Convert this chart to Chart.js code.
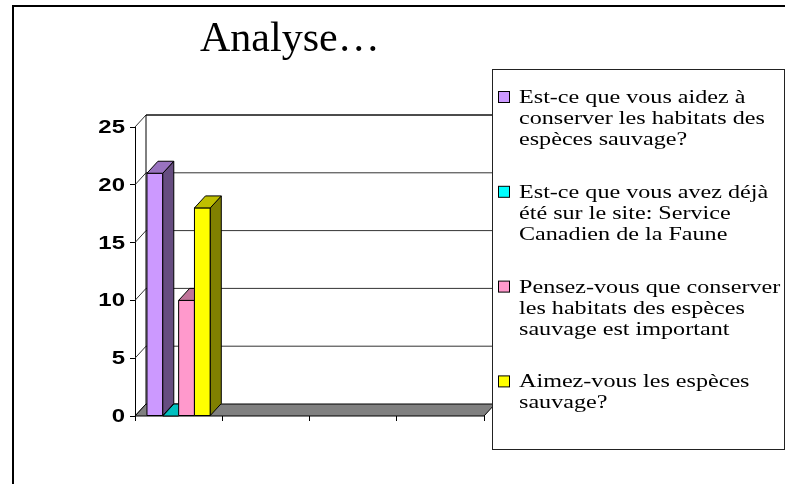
<!DOCTYPE html>
<html>
<head>
<meta charset="utf-8">
<title>Analyse…</title>
<script src="https://cdn.jsdelivr.net/npm/chart.js@4.4.1/dist/chart.umd.min.js"></script>
<style>
    html, body { margin: 0; padding: 0; background: #fff; }
    #wrap { position: relative; width: 785px; height: 484px; }
</style>
</head>
<body>
<div id="wrap"><canvas id="surveyChart" width="785" height="484"></canvas></div>
<script>
/* ================= DATA ================= */

const chartTitle = "Analyse…";
const categories = ["", "", "", ""];

const seriesLabels = [
    ["Est-ce que vous aidez à", "conserver les habitats des", "espèces sauvage?"],
    ["Est-ce que vous avez déjà", "été sur le site: Service", "Canadien de la Faune"],
    ["Pensez-vous que conserver", "les habitats des espèces", "sauvage est important"],
    ["Aimez-vous les espèces", "sauvage?"]
];
const seriesColors = ["#CC99FF", "#00FFFF", "#FF99CC", "#FFFF00"];

const aidezValues     = [21, null, null, null];
const siteValues      = [0, null, null, null];
const importantValues = [10, null, null, null];
const aimezValues     = [18, null, null, null];

const yMin = 0;
const yMax = 25;
const yStep = 5;

/* ================= 3D LOOK ================= */

const DEPTH_X = 11;
const DEPTH_Y = 12;

function shade(hex, f) {
    const n = parseInt(hex.slice(1), 16);
    const r = Math.round(((n >> 16) & 255) * f);
    const g = Math.round(((n >> 8) & 255) * f);
    const b = Math.round((n & 255) * f);
    return `rgb(${r},${g},${b})`;
}

function poly(ctx, pts, fill) {
    ctx.beginPath();
    ctx.moveTo(pts[0][0], pts[0][1]);
    for (let i = 1; i < pts.length; i++) ctx.lineTo(pts[i][0], pts[i][1]);
    ctx.closePath();
    if (fill) { ctx.fillStyle = fill; ctx.fill(); }
    ctx.stroke();
}

// back wall, side wall and floor behind the bars
const wallsPlugin = {
    id: "walls3d",
    beforeDatasetsDraw(chart) {
        const { ctx, chartArea: a, scales: { y } } = chart;
        const L = a.left, R = a.right, T = a.top, B = a.bottom;
        ctx.save();
        ctx.lineWidth = 1;

        // back wall gridlines
        ctx.strokeStyle = "#333";
        y.ticks.forEach(t => {
            const py = y.getPixelForValue(t.value);
            if (t.value > yMin) {
                ctx.beginPath();
                ctx.moveTo(L + DEPTH_X, py - DEPTH_Y);
                ctx.lineTo(R + DEPTH_X, py - DEPTH_Y);
                ctx.stroke();
            }
            // side wall gridline
            ctx.beginPath();
            ctx.moveTo(L, py);
            ctx.lineTo(L + DEPTH_X, py - DEPTH_Y);
            ctx.stroke();
        });

        // back wall left edge
        ctx.strokeStyle = "#000";
        ctx.beginPath();
        ctx.moveTo(L + DEPTH_X, B - DEPTH_Y);
        ctx.lineTo(L + DEPTH_X, T - DEPTH_Y);
        ctx.lineTo(R + DEPTH_X, T - DEPTH_Y);
        ctx.stroke();

        // floor
        poly(ctx, [[L, B], [L + DEPTH_X, B - DEPTH_Y], [R + DEPTH_X, B - DEPTH_Y], [R, B]], "#808080");
        ctx.restore();
    }
};

// front, top and side faces of each bar, drawn series by series
const barsPlugin = {
    id: "bars3d",
    afterDatasetsDraw(chart) {
        const ctx = chart.ctx;
        ctx.save();
        ctx.lineWidth = 1;
        ctx.strokeStyle = "#000";
        chart.data.datasets.forEach((ds, di) => {
            const meta = chart.getDatasetMeta(di);
            meta.data.forEach((bar, i) => {
                if (ds.data[i] == null) return;
                const { x, y, base, width } = bar.getProps(["x", "y", "base", "width"], true);
                const l = x - width / 2, r = x + width / 2;
                const color = seriesColors[di];
                if (base - y > 0) {
                    poly(ctx, [[l, y], [r, y], [r, base], [l, base]], color);
                    poly(ctx, [[r, y], [r, base], [r + DEPTH_X, base - DEPTH_Y], [r + DEPTH_X, y - DEPTH_Y]], shade(color, 0.5));
                }
                poly(ctx, [[l, y], [r, y], [r + DEPTH_X, y - DEPTH_Y], [l + DEPTH_X, y - DEPTH_Y]], shade(color, 0.75));
            });
        });
        ctx.restore();
    }
};

// title, stretched tick labels, legend box and frame
const decorPlugin = {
    id: "decor",
    afterDraw(chart) {
        const { ctx, chartArea: a, scales: { y } } = chart;
        ctx.save();

        // y tick labels
        ctx.fillStyle = "#000";
        ctx.font = "bold 18px 'Liberation Sans', Arial, sans-serif";
        ctx.textAlign = "right";
        ctx.textBaseline = "middle";
        y.ticks.forEach(t => {
            const py = y.getPixelForValue(t.value);
            ctx.save();
            ctx.translate(a.left - 10, py + 1);
            ctx.scale(1.33, 1);
            ctx.fillText(String(t.value), 0, 0);
            ctx.restore();
        });

        // title
        ctx.font = "42px 'Liberation Serif', 'Times New Roman', serif";
        ctx.textAlign = "left";
        ctx.textBaseline = "alphabetic";
        ctx.fillText(chartTitle, 200, 51);

        // legend
        const box = { x: 492, y: 69, w: 292, h: 380 };
        ctx.fillStyle = "#fff";
        ctx.fillRect(box.x, box.y, box.w, box.h);
        ctx.strokeStyle = "#222";
        ctx.lineWidth = 1;
        ctx.strokeRect(box.x + 0.5, box.y + 0.5, box.w, box.h);

        ctx.font = "19px 'Liberation Serif', 'Times New Roman', serif";
        seriesLabels.forEach((lines, k) => {
            const base = box.y + 34 + k * 94.8;
            ctx.fillStyle = seriesColors[k];
            ctx.fillRect(498.5, base - 11.5, 11, 11);
            ctx.strokeStyle = "#000";
            ctx.strokeRect(498.5, base - 11.5, 11, 11);
            ctx.fillStyle = "#000";
            lines.forEach((line, j) => {
                ctx.save();
                ctx.translate(519, base + j * 21);
                ctx.scale(1.27, 1);
                ctx.fillText(line, 0, 0);
                ctx.restore();
            });
        });

        // outer frame (top and left)
        ctx.fillStyle = "#000";
        ctx.fillRect(12, 5, 2, 479);
        ctx.fillRect(12, 5, 773, 2);
        ctx.restore();
    }
};

/* ================= CHART ================= */

function dataset(label, data, color) {
    return {
        label,
        data,
        backgroundColor: color,
        borderColor: "#000",
        borderWidth: 1
    };
}

new Chart(document.getElementById("surveyChart"), {
    type: "bar",
    data: {
        labels: categories,
        datasets: [
            dataset(seriesLabels[0].join(" "), aidezValues, seriesColors[0]),
            dataset(seriesLabels[1].join(" "), siteValues, seriesColors[1]),
            dataset(seriesLabels[2].join(" "), importantValues, seriesColors[2]),
            dataset(seriesLabels[3].join(" "), aimezValues, seriesColors[3])
        ]
    },
    options: {
        responsive: false,
        animation: false,
        layout: { padding: { top: 127, right: 301, bottom: 0, left: 0 } },
        datasets: { bar: { categoryPercentage: 0.726, barPercentage: 1 } },
        plugins: {
            legend: { display: false },
            title: { display: false },
            tooltip: { enabled: false }
        },
        scales: {
            x: {
                ticks: { display: false },
                grid: { drawOnChartArea: false, offset: true, tickLength: 5, color: "#000" },
                border: { display: false },
                afterFit(s) { s.height = 68; }
            },
            y: {
                min: yMin,
                max: yMax,
                ticks: { stepSize: yStep, display: false },
                grid: { drawOnChartArea: false, tickLength: 5, color: "#000" },
                border: { color: "#000", width: 1 },
                afterFit(s) { s.width = 135; }
            }
        }
    },
    plugins: [wallsPlugin, barsPlugin, decorPlugin]
});
</script>
</body>
</html>
